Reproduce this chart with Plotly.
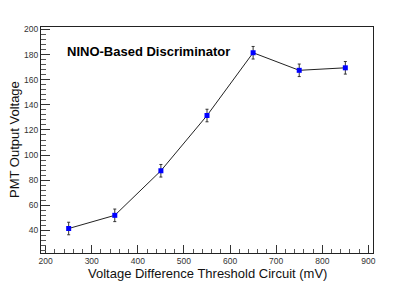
import plotly.graph_objects as go

threshold_mv = [250, 350, 450, 550, 650, 750, 850]
pmt_voltage = [41.5, 52, 87.5, 131.5, 181.5, 167.5, 169.5]
voltage_err = [5, 5, 5, 5, 5, 5, 5]

x_ticks = [200, 300, 400, 500, 600, 700, 800, 900]
y_ticks = [40, 60, 80, 100, 120, 140, 160, 180, 200]

fig = go.Figure()
fig.add_trace(go.Scatter(
    x=threshold_mv, y=pmt_voltage,
    mode="lines+markers",
    line=dict(color="#222222", width=1),
    marker=dict(symbol="square", color="#0000ff", size=5, line=dict(width=0)),
    error_y=dict(type="data", array=voltage_err, visible=True,
                 color="#333333", thickness=1, width=1.5),
    showlegend=False,
))

font = "Liberation Sans, Arial, sans-serif"
fig.update_layout(
    width=415, height=283,
    margin=dict(l=41, r=42, t=27, b=30),
    paper_bgcolor="white", plot_bgcolor="white",
    font=dict(family=font, color="#222222"),
    xaxis=dict(range=[190, 910], tickvals=x_ticks, ticks="inside", ticklen=8,
               tickcolor="#333", tickwidth=1,
               minor=dict(ticks="inside", ticklen=4, dtick=20, tickcolor="#555", showgrid=False),
               showgrid=False, zeroline=False, showline=True, mirror=True,
               linecolor="#222", linewidth=1, tickfont=dict(size=8.5, color="#333")),
    yaxis=dict(range=[22, 202], tickvals=y_ticks, ticks="inside", ticklen=9,
               tickcolor="#333", tickwidth=1,
               minor=dict(ticks="inside", ticklen=5, dtick=4, tickcolor="#555", showgrid=False),
               showgrid=False, zeroline=False, showline=True, mirror=True,
               linecolor="#222", linewidth=1, tickfont=dict(size=8.5, color="#333")),
    annotations=[
        dict(text="Voltage Difference Threshold Circuit (mV)", xref="paper", yref="paper",
             x=0.5, y=0, xanchor="center", yanchor="middle", yshift=-20,
             showarrow=False, font=dict(size=13, color="#111")),
        dict(text="PMT Output Voltage", xref="paper", yref="paper",
             x=0, y=0.5, xanchor="center", yanchor="middle", xshift=-27, textangle=-90,
             showarrow=False, font=dict(size=13, color="#111")),
        dict(text="<b>NINO-Based Discriminator</b>", xref="paper", yref="paper",
             x=0.0723, y=0.8916, xanchor="left", yanchor="middle",
             showarrow=False, font=dict(size=13, color="#000")),
    ],
)

fig.write_html("out.html", config={"displayModeBar": False},
               post_script="document.body.style.margin='0';document.body.style.padding='0';document.body.style.overflow='hidden';")
